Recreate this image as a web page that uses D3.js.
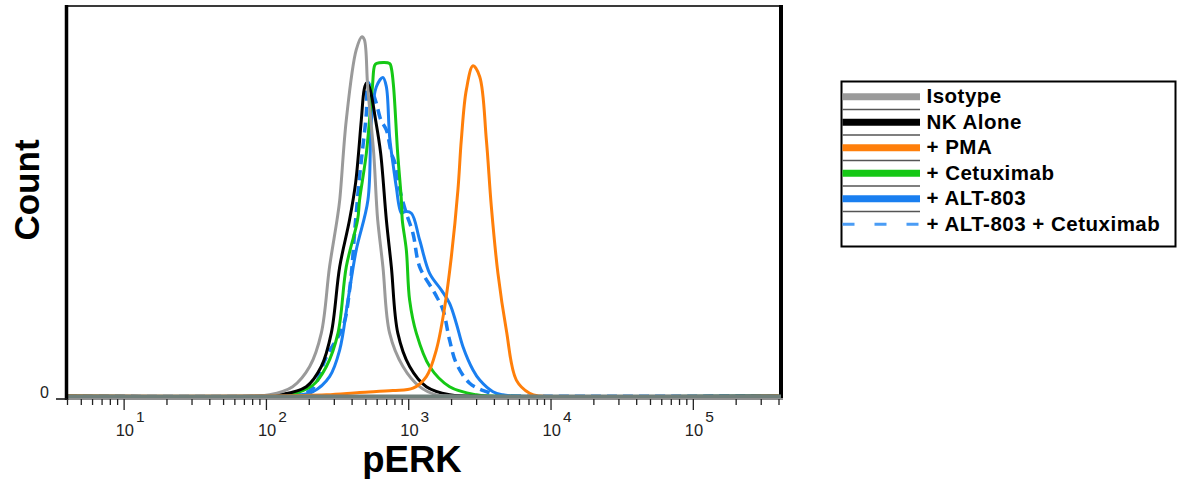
<!DOCTYPE html>
<html>
<head>
<meta charset="utf-8">
<script src="https://cdn.jsdelivr.net/npm/d3@7"></script>
<style>
  body { margin: 0; background: #fff; }
  svg { display: block; }
  text { font-family: "Liberation Sans", Arial, Helvetica, sans-serif; }
</style>
</head>
<body>
<svg id="chart" width="1190" height="479"></svg>
<script>
// pERK fluorescence histograms (count normalised to the mode, %)
const seriesNames = ["Isotype", "NK Alone", "+ PMA", "+ Cetuximab", "+ ALT-803", "+ ALT-803 + Cetuximab"];

const isotypeX = [4, 80, 106, 154, 203, 245, 280, 316, 330, 367, 431, 473, 492, 519, 572, 597, 610, 664, 740, 918, 1203, 1576, 2000, 400000];
const isotypeY = [0, 0, 0.3, 2.4, 7.6, 16.2, 33.3, 45.4, 50.5, 71.1, 89.2, 92.6, 91.8, 79.7, 62.6, 50.5, 45.4, 33.3, 16.2, 7.6, 2.4, 0.3, 0, 0];

const nkAloneX = [4, 100, 125, 192, 245, 288, 330, 387, 427, 468, 490, 508, 532, 590, 640, 702, 761, 845, 1023, 1341, 1953, 2600, 400000];
const nkAloneY = [0, 0, 0.3, 2.4, 7.6, 16.2, 33.3, 45.4, 55.0, 71.1, 78.9, 80.6, 79.7, 71.1, 62.6, 45.4, 33.3, 16.2, 7.6, 2.4, 0.3, 0, 0];

const pmaX = [4, 106, 266, 455, 780, 1080, 1341, 1576, 1805, 2009, 2235, 2361, 2560, 2853, 3180, 3541, 3838, 4270, 4890, 5750, 7130, 8380, 400000];
const pmaY = [0, 0, 0.3, 0.9, 1.4, 2.0, 5.0, 11.9, 23.0, 35.9, 53.1, 66.0, 78.9, 85.1, 82.3, 66.0, 48.8, 31.6, 17.0, 4.1, 0.7, 0, 0];

const cetuximabX = [4, 120, 147, 214, 266, 321, 367, 441, 455, 508, 560, 581, 600, 740, 761, 789, 843, 895, 908, 970, 1023, 1140, 1414, 1953, 3013, 3800, 400000];
const cetuximabY = [0, 0, 0.3, 2.8, 7.6, 16.2, 33.3, 45.4, 50.5, 62.6, 79.7, 85.2, 85.7, 85.7, 84.5, 79.7, 62.6, 50.5, 45.4, 37.6, 24.7, 16.2, 7.6, 2.4, 0.3, 0, 0];

const alt803X = [4, 140, 173, 214, 280, 330, 377, 431, 521, 551, 597, 664, 702, 740, 793, 824, 895, 944, 1052, 1203, 1414, 1710, 1953, 2178, 2425, 2853, 3180, 3940, 4605, 5500, 400000];
const alt803Y = [0, 0, 0.3, 1.1, 5.0, 11.9, 24.7, 37.6, 50.5, 71.1, 79.7, 82.1, 79.7, 66.8, 58.2, 53.9, 47.1, 47.5, 47.1, 40.2, 31.6, 27.3, 23.9, 18.7, 12.7, 6.7, 4.1, 1.1, 0.3, 0, 0];

const comboX = [4, 140, 173, 214, 266, 348, 387, 427, 455, 483, 508, 519, 554, 597, 643, 702, 761, 805, 873, 970, 1080, 1203, 1535, 1754, 1953, 2178, 2702, 3541, 4389, 5200, 400000];
const comboY = [0, 0, 0.3, 2.0, 10.1, 17.9, 27.3, 45.4, 56.5, 65.1, 72.9, 80.9, 78.9, 75.4, 71.1, 68.6, 62.6, 60.1, 53.1, 47.1, 41.9, 33.3, 26.5, 22.2, 14.4, 8.4, 3.3, 1.1, 0.1, 0, 0];

// x-axis tick values (log decades and their multiples)
const majorTicks = [10, 100, 1000, 10000, 100000];
const majorExponents = ["1", "2", "3", "4", "5"];

const series = [
  { name: seriesNames[5], xs: comboX, ys: comboY, color: "#1a7ff0", dash: "10,6", width: 3.5, legendColor: "#4a9cf5", legendDash: "12,20", legendWidth: 3 },
  { name: seriesNames[4], xs: alt803X, ys: alt803Y, color: "#1a7ff0", dash: null, width: 3, legendColor: "#1a7ff0", legendWidth: 7 },
  { name: seriesNames[3], xs: cetuximabX, ys: cetuximabY, color: "#15c815", dash: null, width: 3, legendColor: "#15c815", legendWidth: 7 },
  { name: seriesNames[1], xs: nkAloneX, ys: nkAloneY, color: "#000000", dash: null, width: 3, legendColor: "#000000", legendWidth: 7 },
  { name: seriesNames[0], xs: isotypeX, ys: isotypeY, color: "#9a9a9a", dash: null, width: 3, legendColor: "#9a9a9a", legendWidth: 7 },
  { name: seriesNames[2], xs: pmaX, ys: pmaY, color: "#ff7f0a", dash: null, width: 3, legendColor: "#ff7f0a", legendWidth: 7 }
];

const svg = d3.select("#chart");

const x = d3.scaleLog().domain([4, 400000]).range([67, 778.5]);
const y = d3.scaleLinear().domain([0, 100]).range([396, 8]);

// clip region for the histogram traces
svg.append("defs").append("clipPath").attr("id", "plotClip")
  .append("rect").attr("x", 67).attr("y", 6).attr("width", 712).attr("height", 391);

const line = d3.line()
  .x(d => x(d[0]))
  .y(d => y(Math.max(0, d[1])))
  .curve(d3.curveCatmullRom.alpha(0.5));

const traces = svg.append("g").attr("clip-path", "url(#plotClip)");
series.forEach(s => {
  const pts = s.xs.map((v, i) => [v, s.ys[i]]);
  traces.append("path")
    .attr("d", line(pts))
    .attr("fill", "none")
    .attr("stroke", s.color)
    .attr("stroke-width", s.width)
    .attr("stroke-linejoin", "round")
    .attr("stroke-dasharray", s.dash);
});

// frame
const frame = svg.append("g");
frame.append("line").attr("x1", 66).attr("x2", 782).attr("y1", 6).attr("y2", 6)
  .attr("stroke", "#3a3a3a").attr("stroke-width", 2);
frame.append("line").attr("x1", 781).attr("x2", 781).attr("y1", 5).attr("y2", 398)
  .attr("stroke", "#000").attr("stroke-width", 4);
frame.append("line").attr("x1", 67).attr("x2", 781).attr("y1", 396.3).attr("y2", 396.3)
  .attr("stroke", "#6f7f7a").attr("stroke-width", 3.6);
frame.append("line").attr("x1", 56).attr("x2", 783).attr("y1", 399).attr("y2", 399)
  .attr("stroke", "#222").attr("stroke-width", 1.2);
frame.append("line").attr("x1", 66.5).attr("x2", 66.5).attr("y1", 5).attr("y2", 400)
  .attr("stroke", "#000").attr("stroke-width", 3.5);

// x axis: minor and major ticks
const minorTicks = [];
for (let e = 0; e <= 5; e++) {
  for (let m = 1; m <= 9; m++) {
    const v = m * Math.pow(10, e);
    if (v >= 4 && v <= 400000 && m !== 1) minorTicks.push(v);
  }
}

const minorAxis = d3.axisBottom(x).tickValues(minorTicks).tickSize(6).tickSizeOuter(0).tickFormat("");
const majorAxis = d3.axisBottom(x).tickValues(majorTicks).tickSize(11).tickSizeOuter(0).tickFormat("");

[minorAxis, majorAxis].forEach(ax => {
  const g = svg.append("g").attr("transform", "translate(0,399)").call(ax);
  g.select(".domain").remove();
  g.selectAll(".tick line").attr("stroke", "#222").attr("stroke-width", 1.3);
});

// decade labels: 10 with superscript exponent
const labels = svg.append("g");
majorTicks.forEach((v, i) => {
  const t = labels.append("text")
    .attr("x", x(v) - 8)
    .attr("y", 436)
    .attr("font-size", 16.5)
    .attr("fill", "#222");
  t.append("tspan").text("10");
  t.append("tspan").attr("dx", 2).attr("dy", -14.5).attr("font-size", 15.5).text(majorExponents[i]);
});

// y axis: single zero tick
svg.append("line").attr("x1", 56).attr("x2", 67).attr("y1", 399).attr("y2", 399)
  .attr("stroke", "#222").attr("stroke-width", 1.3);
svg.append("text").attr("x", 44.5).attr("y", 398).attr("text-anchor", "middle")
  .attr("font-size", 16).attr("fill", "#222").text("0");

// axis titles
svg.append("text").attr("x", 412).attr("y", 472).attr("text-anchor", "middle")
  .attr("font-size", 36.5).attr("font-weight", "bold").attr("fill", "#000").text("pERK");
svg.append("text").attr("transform", "translate(39,190) rotate(-90)").attr("text-anchor", "middle")
  .attr("font-size", 35).attr("font-weight", "bold").attr("fill", "#000").text("Count");

// legend
const legendOrder = [4, 3, 5, 2, 1, 0];
const legend = svg.append("g");
legend.append("rect").attr("x", 841.5).attr("y", 81.5).attr("width", 334).attr("height", 165)
  .attr("fill", "#fff").attr("stroke", "#000").attr("stroke-width", 2);

const rowY = d3.scaleLinear().domain([0, 1]).range([96.7, 122.2]);
legendOrder.forEach((si, r) => {
  const s = series[si];
  const cy = rowY(r);
  legend.append("line").attr("x1", 842.5).attr("x2", 920).attr("y1", cy).attr("y2", cy)
    .attr("stroke", s.legendColor).attr("stroke-width", s.legendWidth)
    .attr("stroke-dasharray", s.legendDash || null);
  if (r < legendOrder.length - 1) {
    legend.append("line").attr("x1", 842.5).attr("x2", 920)
      .attr("y1", cy + 12.7).attr("y2", cy + 12.7)
      .attr("stroke", "#555").attr("stroke-width", 1.5);
  }
  legend.append("text").attr("x", 926.5).attr("y", cy + 6.5)
    .attr("font-size", 20.5).attr("letter-spacing", 0.5).attr("font-weight", "bold")
    .attr("fill", "#000").text(s.name);
});
</script>
</body>
</html>
